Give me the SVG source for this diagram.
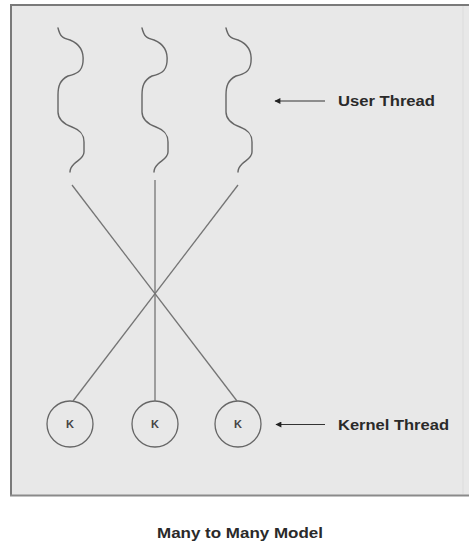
<svg xmlns="http://www.w3.org/2000/svg" width="469" height="544" viewBox="0 0 469 544">
<defs>
<style>
.thread{fill:none;stroke:#666;stroke-width:1.4;stroke-linecap:round;stroke-linejoin:round}
.conn{fill:none;stroke:#757575;stroke-width:1.3}
.kern{fill:none;stroke:#666;stroke-width:1.3}
.k{font-family:"Liberation Sans",Arial,sans-serif;font-weight:bold;font-size:11px;fill:#444;text-anchor:middle}
.lbl{font-family:"Liberation Sans",Arial,sans-serif;font-weight:bold;font-size:15px;fill:#2a2a2a}
.ptr{fill:none;stroke:#333;stroke-width:1.2}
</style>
<marker id="ah" viewBox="0 0 10 10" refX="9" refY="5" markerWidth="8" markerHeight="6" markerUnits="userSpaceOnUse" orient="auto-start-reverse">
<path d="M0,0 L10,5 L0,10 Z" fill="#222"/>
</marker>
<path id="sq" d="M58,28 C60,36 62,38 70,40 C80,44 84,52 83,62 C82,72 76,74 68,76 C60,80 58,86 58,95 L58,112 C58,120 64,124 72,127 C80,130 84,134 84,142 L84,152 C84,158 78,160 74,164 C71,167 70,170 70,172"/>
</defs>
<rect x="0" y="0" width="469" height="544" fill="#ffffff"/>
<g id="frame">
<rect x="10" y="4" width="459" height="492" fill="#e8e8e8"/>
<line x1="10" y1="5" x2="469" y2="5" stroke="#7a7a7a" stroke-width="2"/>
<line x1="11" y1="4" x2="11" y2="496" stroke="#7a7a7a" stroke-width="2"/>
<line x1="10" y1="495.5" x2="469" y2="495.5" stroke="#8a8a8a" stroke-width="2"/>
<line x1="463" y1="6" x2="463" y2="494" stroke="#dcdcdc" stroke-width="1"/>
</g>
<g id="user-thread-1"><use href="#sq" class="thread"/></g>
<g id="user-thread-2"><use href="#sq" class="thread" transform="translate(84,0)"/></g>
<g id="user-thread-3"><use href="#sq" class="thread" transform="translate(168,0)"/></g>
<g id="kernel-thread-1"><circle cx="70" cy="424" r="23" class="kern"/><text x="70" y="428" class="k">K</text></g>
<g id="kernel-thread-2"><circle cx="155" cy="424" r="23" class="kern"/><text x="155" y="428" class="k">K</text></g>
<g id="kernel-thread-3"><circle cx="238" cy="424" r="23" class="kern"/><text x="238" y="428" class="k">K</text></g>
<g id="connectors">
<line x1="72" y1="185" x2="237" y2="401" class="conn"/>
<line x1="155" y1="180" x2="155" y2="401" class="conn"/>
<line x1="238" y1="185" x2="73" y2="401" class="conn"/>
<line x1="325" y1="101" x2="275" y2="101" class="ptr" marker-end="url(#ah)"/>
<line x1="325" y1="424.5" x2="276" y2="424.5" class="ptr" marker-end="url(#ah)"/>
</g>
<g id="labels">
<text x="338" y="106" class="lbl" textLength="97" lengthAdjust="spacingAndGlyphs">User Thread</text>
<text x="338" y="430" class="lbl" textLength="111" lengthAdjust="spacingAndGlyphs">Kernel Thread</text>
<text x="157" y="538" class="lbl" textLength="166" lengthAdjust="spacingAndGlyphs" fill="#3a3a3a">Many to Many Model</text>
</g>
</svg>
